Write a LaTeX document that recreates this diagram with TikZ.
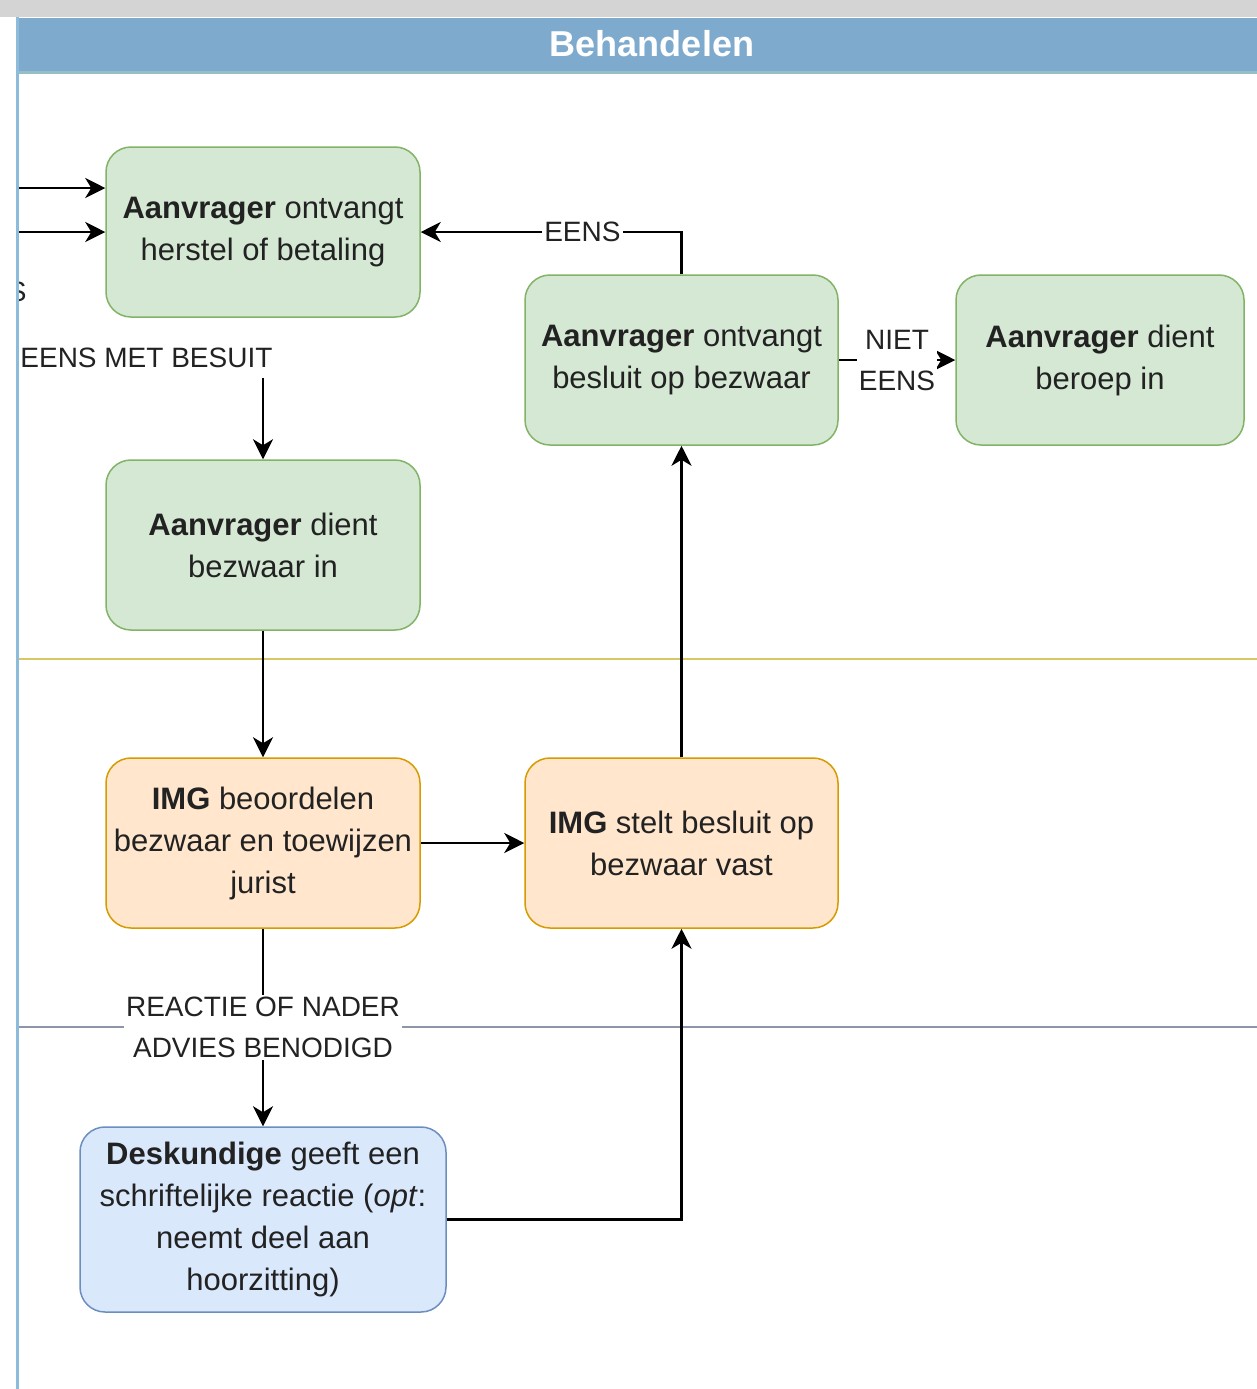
\documentclass[tikz,border=0pt]{standalone}
\usepackage{fontspec}
\setmainfont{Liberation Sans}
\usetikzlibrary{arrows.meta}
\definecolor{topgrey}{RGB}{212,212,212}
\definecolor{hdrblue}{RGB}{126,170,206}
\definecolor{hdrline}{RGB}{150,190,200}
\definecolor{laneblue}{RGB}{140,188,218}
\definecolor{laneyellow}{RGB}{214,200,100}
\definecolor{lanegrey}{RGB}{140,150,168}
\definecolor{gfill}{HTML}{D5E8D4}
\definecolor{gdraw}{HTML}{82B366}
\definecolor{ofill}{HTML}{FFE6CC}
\definecolor{odraw}{HTML}{D79B00}
\definecolor{bfill}{HTML}{DAE8FC}
\definecolor{bdraw}{HTML}{6C8EBF}
\definecolor{txt}{RGB}{34,34,34}
\tikzset{
  boxbase/.style={rounded corners=12.5pt, align=center, inner sep=0pt, line width=0.75pt,
    text=txt, font=\fontsize{15.5}{21}\selectfont, minimum height=85pt},
  greenbox/.style={boxbase, fill=gfill, draw=gdraw},
  orangebox/.style={boxbase, fill=ofill, draw=odraw},
  bluebox/.style={boxbase, fill=bfill, draw=bdraw},
  lbl/.style={fill=white, inner sep=1pt, text=txt, align=center, font=\fontsize{14}{20.5}\selectfont},
  arr/.style={line width=1.25pt, -{Stealth[length=10pt,width=10pt,inset=3pt]}},
  plainline/.style={line width=1.25pt}
}
\begin{document}
\begin{tikzpicture}[x=0.5pt,y=-0.5pt]
\useasboundingbox (0,0) rectangle (1257,1389);
\fill[white] (0,0) rectangle (1257,1389);
\fill[topgrey] (0,0) rectangle (1257,17);
\fill[hdrblue] (18,18) rectangle (1257,71);
\draw[hdrline, line width=1.5pt] (18,72) -- (1257,72);
\node[text=white, font=\bfseries\fontsize{18}{22}\selectfont] (title) at (652,44) {Behandelen};
% lane separators
\draw[laneyellow, line width=1pt] (19,659) -- (1257,659);
\draw[lanegrey, line width=1pt] (19,1027) -- (1257,1027);
% nodes
\node[greenbox, minimum width=157pt] (A) at (263,232) {\textbf{Aanvrager} ontvangt\\herstel of betaling};
\node[greenbox, minimum width=156.5pt] (B) at (681.5,360) {\textbf{Aanvrager} ontvangt\\besluit op bezwaar};
\node[greenbox, minimum width=144pt] (C) at (1100,360) {\textbf{Aanvrager} dient\\beroep in};
\node[greenbox, minimum width=157pt] (D) at (263,545) {\textbf{Aanvrager} dient\\bezwaar in};
\node[orangebox, minimum width=157pt] (E) at (263,843) {\textbf{IMG} beoordelen\\bezwaar en toewijzen\\jurist};
\node[orangebox, minimum width=156.5pt] (F) at (681.5,843) {\textbf{IMG} stelt besluit op\\bezwaar vast};
\node[bluebox, minimum width=183pt, minimum height=92.5pt] (G) at (263,1219.5) {\textbf{Deskundige} geeft een\\schriftelijke reactie (\textit{opt}:\\neemt deel aan\\hoorzitting)};
% incoming from the left
\coordinate (in1) at (19,188);
\coordinate (in2) at (19,232);
\draw[arr] (in1) -- (in1 -| A.west);
\draw[arr] (in2) -- (A.west);
\begin{scope}
\clip (19,0) rectangle (1257,1389);
\node[lbl, fill=none, anchor=east] (Scut) at (29,292) {S};
\end{scope}
\node[lbl, anchor=west] (emb) at (18,358) {EENS MET BESUIT};
\coordinate (c1) at (263,378);
\draw[arr] (c1) -- (D.north);
% edges
\draw[arr] (B.north) |- node[lbl, pos=0.69] {EENS} (A.east);
\draw[arr] (B.east) -- node[lbl] {NIET\\EENS} (C.west);
\draw[arr] (D.south) -- (E.north);
\draw[arr] (E.east) -- (F.west);
\draw[arr] (F.north) -- (B.south);
\draw[arr] (E.south) -- node[lbl] {REACTIE OF NADER\\ADVIES BENODIGD} (G.north);
\draw[arr] (G.east) -| (F.south);
% left lane border
\draw[laneblue, line width=1.5pt] (17.5,17) -- (17.5,1389);
\end{tikzpicture}
\end{document}
